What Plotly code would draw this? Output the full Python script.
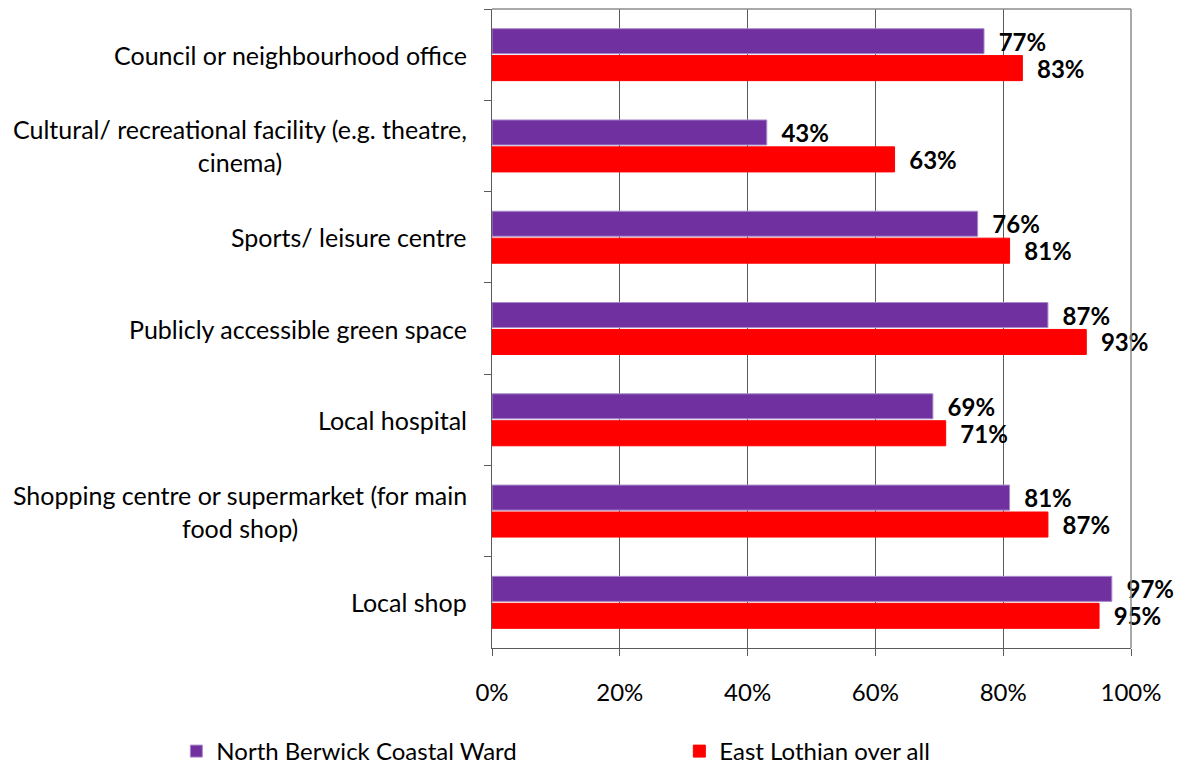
import plotly.graph_objects as go

categories = [
    "Council or neighbourhood office",
    "Cultural/ recreational facility (e.g. theatre,<br>cinema)",
    "Sports/ leisure centre",
    "Publicly accessible green space",
    "Local hospital",
    "Shopping centre or supermarket (for main<br>food shop)",
    "Local shop",
]
cat_keys = ["c%d" % i for i in range(len(categories))]
north_berwick = [77, 43, 76, 87, 69, 81, 97]
east_lothian = [83, 63, 81, 93, 71, 87, 95]
series_names = ["North Berwick Coastal Ward", "East Lothian over all"]
x_ticks = [0, 20, 40, 60, 80, 100]
x_tick_text = ["%d%%" % v for v in x_ticks]

FONT = "Lato"
FS = 24
W, H = 1177, 767
ML, MR, MT, MB = 492, 46, 9, 119

fig = go.Figure()
fig.add_trace(go.Bar(
    y=cat_keys, x=north_berwick, name=series_names[0], orientation="h",
    marker=dict(color="#7030A0", line=dict(color="#A98BC9", width=1)),
    text=["%d%%" % v for v in north_berwick], textposition="outside",
    texttemplate="  %{text}", constraintext="none", cliponaxis=False,
    textfont=dict(family=FONT, size=FS, color="black", weight="bold"),
))
fig.add_trace(go.Bar(
    y=cat_keys, x=east_lothian, name=series_names[1], orientation="h",
    marker=dict(color="#FF0000", line=dict(color="#FF0000", width=1)),
    text=["%d%%" % v for v in east_lothian], textposition="outside",
    texttemplate="  %{text}", constraintext="none", cliponaxis=False,
    textfont=dict(family=FONT, size=FS, color="black", weight="bold"),
))

annotations = []
for key, label in zip(cat_keys, categories):
    annotations.append(dict(
        x=0, xref="paper", y=key, yref="y", text=label, showarrow=False,
        xanchor="right", yanchor="middle", align="center", xshift=-23,
        font=dict(family=FONT, size=25, color="black"),
    ))

fig.update_layout(
    width=W, height=H,
    margin=dict(l=ML, r=MR, t=MT, b=MB, autoexpand=False),
    paper_bgcolor="white", plot_bgcolor="white",
    barmode="group", bargap=0.41, bargroupgap=0.07,
    font=dict(family=FONT, size=FS, color="black"),
    showlegend=True,
    legend=dict(
        orientation="h", x=-0.494, xanchor="left", y=-0.162, yanchor="middle",
        entrywidth=458, entrywidthmode="pixels", itemwidth=30,
        font=dict(family=FONT, size=FS, color="black"),
        traceorder="normal",
    ),
    annotations=annotations,
    shapes=[
        dict(type="line", xref="paper", yref="paper", x0=0, x1=1, y0=1, y1=1,
             line=dict(color="#8C8C8C", width=1.5)),
        dict(type="line", xref="paper", yref="paper", x0=1, x1=1, y0=0, y1=1,
             line=dict(color="#8C8C8C", width=1.5)),
    ],
)
fig.update_xaxes(
    range=[0, 100], tickmode="array", tickvals=x_ticks, ticktext=x_tick_text,
    showgrid=True, gridcolor="#5A5A5A", gridwidth=1,
    showline=True, linecolor="#5A5A5A", linewidth=1,
    ticks="outside", ticklen=7, tickcolor="#5A5A5A",
    ticklabelstandoff=16, zeroline=False, automargin=False,
    tickfont=dict(family=FONT, size=FS, color="black"),
)
fig.update_yaxes(
    autorange="reversed", showticklabels=False, showgrid=False,
    showline=True, linecolor="#5A5A5A", linewidth=1,
    ticks="outside", ticklen=7, tickcolor="#5A5A5A", tickson="boundaries",
    categoryorder="array", categoryarray=cat_keys, automargin=False,
)

fig.write_html("out.html", config={"displayModeBar": False},
               post_script="document.body.style.margin='0';")
